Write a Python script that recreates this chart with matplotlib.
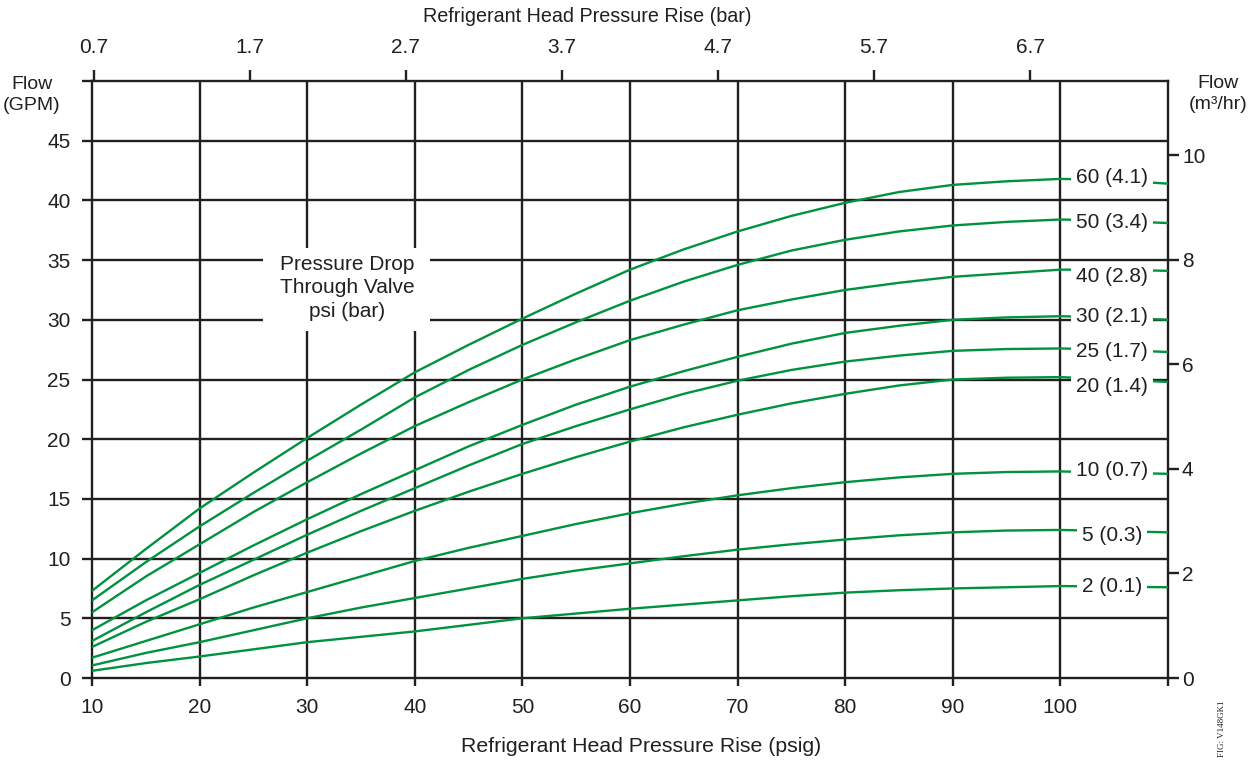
import matplotlib.pyplot as plt


# head pressure rise (psig) where the curves were read
psig = [10, 15, 20, 25, 30, 35, 40, 45, 50, 55, 60, 65, 70, 75, 80, 85, 90, 95, 100, 105, 110]

# flow (GPM) for each pressure drop through the valve
flow_60 = [7.3, 10.8, 14.2, 17.2, 20.1, 22.9, 25.6, 27.9, 30.1, 32.2, 34.2, 35.9, 37.4, 38.7, 39.8, 40.7, 41.3, 41.6, 41.8, 41.7, 41.4]
flow_50 = [6.5, 9.7, 12.7, 15.5, 18.2, 20.8, 23.5, 25.8, 27.9, 29.8, 31.6, 33.2, 34.6, 35.8, 36.7, 37.4, 37.9, 38.2, 38.4, 38.3, 38.1]
flow_40 = [5.5, 8.5, 11.2, 13.9, 16.4, 18.8, 21.1, 23.1, 25.0, 26.7, 28.3, 29.6, 30.8, 31.7, 32.5, 33.1, 33.6, 33.9, 34.2, 34.2, 34.1]
flow_30 = [4.0, 6.5, 8.8, 11.1, 13.3, 15.4, 17.4, 19.4, 21.2, 22.9, 24.4, 25.7, 26.9, 28.0, 28.9, 29.5, 30.0, 30.2, 30.3, 30.2, 30.0]
flow_25 = [3.1, 5.5, 7.8, 9.9, 12.0, 14.0, 15.9, 17.8, 19.6, 21.1, 22.5, 23.8, 24.9, 25.8, 26.5, 27.0, 27.4, 27.55, 27.6, 27.5, 27.3]
flow_20 = [2.6, 4.7, 6.6, 8.6, 10.5, 12.3, 14.0, 15.6, 17.1, 18.5, 19.8, 21.0, 22.05, 23.0, 23.8, 24.5, 25.0, 25.15, 25.2, 25.0, 24.8]
flow_10 = [1.7, 3.1, 4.5, 5.9, 7.2, 8.5, 9.8, 10.9, 11.9, 12.9, 13.8, 14.6, 15.3, 15.9, 16.4, 16.8, 17.1, 17.25, 17.3, 17.2, 17.1]
flow_5 = [1.05, 2.1, 3.0, 4.0, 5.0, 5.9, 6.7, 7.5, 8.3, 9.0, 9.6, 10.2, 10.75, 11.2, 11.6, 11.95, 12.2, 12.35, 12.4, 12.3, 12.2]
flow_2 = [0.6, 1.25, 1.8, 2.4, 3.0, 3.45, 3.9, 4.45, 5.0, 5.4, 5.8, 6.15, 6.5, 6.85, 7.15, 7.35, 7.5, 7.6, 7.7, 7.65, 7.6]

curve_labels = ["60 (4.1)", "50 (3.4)", "40 (2.8)", "30 (2.1)", "25 (1.7)",
                "20 (1.4)", "10 (0.7)", "5 (0.3)", "2 (0.1)"]

# axis ticks
psig_ticks = [10, 20, 30, 40, 50, 60, 70, 80, 90, 100, 110]
psig_ticklabels = ["10", "20", "30", "40", "50", "60", "70", "80", "90", "100", ""]
gpm_ticks = [0, 5, 10, 15, 20, 25, 30, 35, 40, 45, 50]
gpm_ticklabels = ["0", "5", "10", "15", "20", "25", "30", "35", "40", "45", ""]
bar_ticks = [0.7, 1.7, 2.7, 3.7, 4.7, 5.7, 6.7]
m3h_ticks = [0, 2, 4, 6, 8, 10]

PSI_PER_BAR = 14.5038
GPM_PER_M3H = 4.38

dark = "#231f20"
green = "#00923f"
plt.rcParams["font.family"] = ["Liberation Sans", "DejaVu Sans"]

fig = plt.figure(figsize=(12.6, 7.64), dpi=100)
ax = fig.add_axes([92 / 1260, 1 - 678 / 764, 1076 / 1260, 597 / 764])
ax.set_xlim(10, 110)
ax.set_ylim(0, 50)

# grid
for x in psig_ticks[1:-1]:
    ax.axvline(x, color=dark, linewidth=1.7, zorder=1)
for y in gpm_ticks[1:-1]:
    ax.axhline(y, color=dark, linewidth=1.7, zorder=1)
for side in ax.spines.values():
    side.set_color(dark)
    side.set_linewidth(1.7)

# white patch behind the inner note
ax.add_patch(plt.Rectangle((25.9, 29.1), 15.5, 6.9, facecolor="white",
                           edgecolor="none", zorder=2))
ax.text(33.7, 32.7, "Pressure Drop\nThrough Valve\npsi (bar)", ha="center", va="center",
        fontsize=15, color=dark, linespacing=1.3, zorder=3)

# the curves
curves = [flow_60, flow_50, flow_40, flow_30, flow_25, flow_20, flow_10, flow_5, flow_2]
label_shift = [0.7, -2.2, -5.0, 0.0, -2.5, -6.8, 1.0, -4.0, -0.4]
for flow, label, dy in zip(curves, curve_labels, label_shift):
    ax.plot(psig, flow, color=green, linewidth=1.7, zorder=4, solid_joinstyle="round")
    ax.annotate(label, xy=(104.8, flow[psig.index(100)]), xytext=(0, dy),
                textcoords="offset points", ha="center", va="center",
                fontsize=15, color=dark, zorder=5,
                bbox=dict(facecolor="white", edgecolor="none", pad=3.5))

# bottom / left ticks
ax.set_xticks(psig_ticks)
ax.set_xticklabels(psig_ticklabels)
ax.set_yticks(gpm_ticks)
ax.set_yticklabels(gpm_ticklabels)
ax.tick_params(axis="x", direction="out", length=5.5, width=1.7, color=dark,
               pad=9, labelsize=15, labelcolor=dark)
ax.tick_params(axis="y", direction="out", length=7.5, width=1.7, color=dark,
               pad=8, labelsize=15, labelcolor=dark)

# top axis in bar
top = ax.secondary_xaxis("top", functions=(lambda p: p / PSI_PER_BAR, lambda b: b * PSI_PER_BAR))
top.set_xticks(bar_ticks)
top.set_xticklabels([str(b) for b in bar_ticks])
top.tick_params(direction="out", length=8, width=1.7, color=dark, pad=9,
                labelsize=15, labelcolor=dark)
top.spines["top"].set_visible(False)

# right axis in m3/hr
right = ax.secondary_yaxis("right", functions=(lambda g: g / GPM_PER_M3H, lambda m: m * GPM_PER_M3H))
right.set_yticks(m3h_ticks)
right.set_yticklabels([str(m) for m in m3h_ticks])
right.tick_params(direction="out", length=8, width=1.7, color=dark, pad=2,
                  labelsize=15, labelcolor=dark)
right.spines["right"].set_visible(False)

# axis titles
fig.text(587 / 1260, 1 - 17 / 764, "Refrigerant Head Pressure Rise (bar)", ha="center",
         va="center", fontsize=14.2, color=dark)
fig.text(641 / 1260, 1 - 747 / 764, "Refrigerant Head Pressure Rise (psig)", ha="center",
         va="center", fontsize=15.3, color=dark)
fig.text(32 / 1260, 1 - 95 / 764, "Flow\n(GPM)", ha="center", va="center",
         fontsize=14, color=dark, linespacing=1.35)
fig.text(1218 / 1260, 1 - 94 / 764, "Flow\n(m³/hr)", ha="center", va="center",
         fontsize=14, color=dark, linespacing=1.35)
fig.text(1222 / 1260, 1 - 729 / 764, "FIG: V148GK1", rotation=90, ha="center", va="center",
         fontsize=6.5, color=dark, family=["Liberation Serif", "DejaVu Serif"])

plt.savefig("out.png", dpi=100)
